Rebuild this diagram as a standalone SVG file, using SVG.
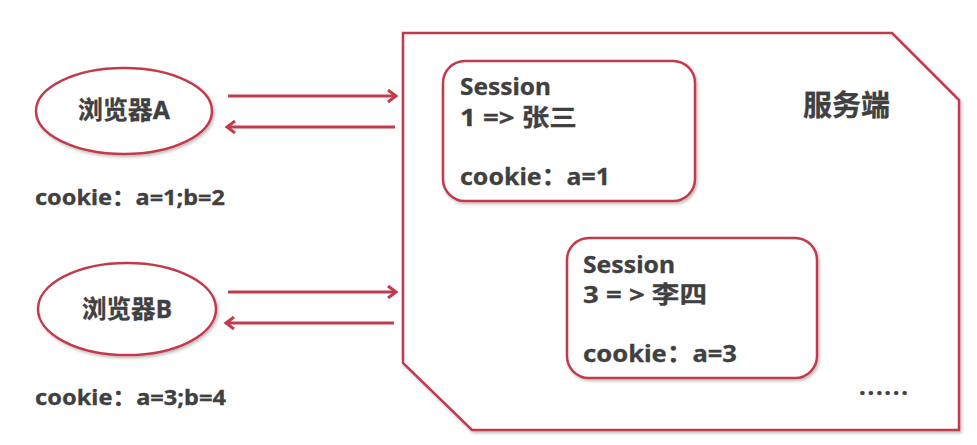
<svg xmlns="http://www.w3.org/2000/svg" width="977" height="445" viewBox="0 0 977 445">
<defs>
<filter id="sh" x="-10%" y="-10%" width="120%" height="130%">
<feDropShadow dx="1.5" dy="2" stdDeviation="1.5" flood-color="#000" flood-opacity="0.25"/>
</filter>
<marker id="ah" viewBox="0 0 14 14" refX="11" refY="7" markerWidth="14" markerHeight="14" markerUnits="userSpaceOnUse" orient="auto">
<path d="M3,1 L11,7 L3,13" fill="none" stroke="#c23b4d" stroke-width="3" stroke-linejoin="miter"/>
</marker>
</defs>
<style>
.shape{fill:#fff;stroke:#c23b4d;stroke-width:2.5;filter:url(#sh)}
.t{font-family:"Noto Sans","Noto Sans CJK SC",sans-serif;font-weight:bold;fill:#404040;stroke:#404040;stroke-width:0.3}
.conn{stroke:#c23b4d;stroke-width:3;fill:none;marker-end:url(#ah)}
</style>
<rect width="977" height="445" fill="#fff"/>
<g id="server">
<polygon class="shape" points="403,33 892,33 959,100 959,430 472,430 403,363"/>
<text class="t" x="803" y="116" font-size="29" textLength="87" lengthAdjust="spacingAndGlyphs">服务端</text>
<text class="t" x="859" y="395" font-size="24" textLength="49" lengthAdjust="spacing">......</text>
</g>
<g id="session1">
<rect class="shape" x="443" y="61" width="252" height="140" rx="22"/>
<text class="t" font-size="24">
<tspan x="460" y="95" textLength="91" lengthAdjust="spacingAndGlyphs">Session</tspan>
<tspan x="460" y="126" textLength="117" lengthAdjust="spacingAndGlyphs">1 =&gt; 张三</tspan>
<tspan x="460" y="185" textLength="150" lengthAdjust="spacingAndGlyphs">cookie：a=1</tspan>
</text>
</g>
<g id="session2">
<rect class="shape" x="567" y="238" width="250" height="140" rx="22"/>
<text class="t" font-size="24">
<tspan x="583" y="273" textLength="92" lengthAdjust="spacingAndGlyphs">Session</tspan>
<tspan x="583" y="303" textLength="124" lengthAdjust="spacingAndGlyphs">3 = &gt; 李四</tspan>
<tspan x="583" y="362" textLength="154" lengthAdjust="spacingAndGlyphs">cookie：a=3</tspan>
</text>
</g>
<g id="browserA">
<ellipse class="shape" cx="124" cy="111" rx="88" ry="43"/>
<text class="t" x="78" y="119" font-size="25" textLength="92" lengthAdjust="spacingAndGlyphs">浏览器A</text>
</g>
<g id="browserB">
<ellipse class="shape" cx="127" cy="309" rx="89" ry="46"/>
<text class="t" x="82" y="318" font-size="25" textLength="90" lengthAdjust="spacingAndGlyphs">浏览器B</text>
</g>
<g id="cookieA">
<text class="t" x="35" y="205" font-size="22" textLength="190" lengthAdjust="spacingAndGlyphs">cookie：a=1;b=2</text>
</g>
<g id="cookieB">
<text class="t" x="35" y="405" font-size="22" textLength="191" lengthAdjust="spacingAndGlyphs">cookie：a=3;b=4</text>
</g>
<g id="connectors">
<line class="conn" x1="228" y1="96" x2="396" y2="96"/>
<line class="conn" x1="395" y1="127" x2="227" y2="127"/>
<line class="conn" x1="228" y1="292" x2="396" y2="292"/>
<line class="conn" x1="394" y1="323" x2="226" y2="323"/>
</g>
</svg>
